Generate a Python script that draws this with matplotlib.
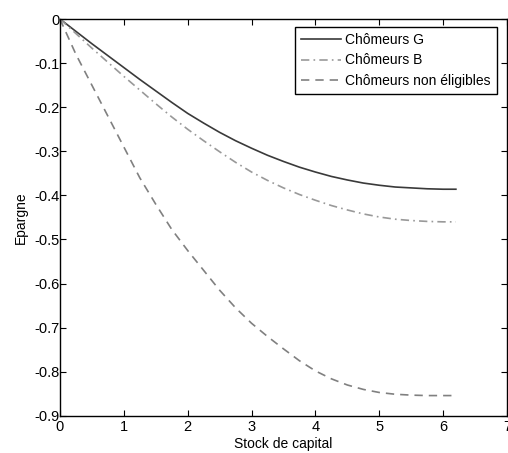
import numpy as np
import matplotlib.pyplot as plt

plt.rcParams['font.family'] = ['Liberation Sans', 'DejaVu Sans']

# stock de capital
capital = [0, 0.25, 0.5, 0.75, 1, 1.25, 1.5, 1.75, 2, 2.25, 2.5, 2.75, 3,
           3.25, 3.5, 3.75, 4, 4.25, 4.5, 4.75, 5, 5.25, 5.5, 5.75, 6, 6.2]
# epargne par groupe
epargne_g = [0, -0.028, -0.056, -0.083, -0.11, -0.137, -0.163, -0.189, -0.214,
             -0.236, -0.257, -0.276, -0.293, -0.309, -0.323, -0.336, -0.347,
             -0.357, -0.365, -0.372, -0.377, -0.381, -0.383, -0.385, -0.386, -0.386]
epargne_b = [0, -0.033, -0.066, -0.098, -0.13, -0.161, -0.192, -0.222, -0.25,
             -0.276, -0.301, -0.325, -0.347, -0.366, -0.383, -0.398, -0.411,
             -0.423, -0.433, -0.442, -0.449, -0.454, -0.457, -0.459, -0.46, -0.46]
epargne_ne = [0, -0.08, -0.15, -0.22, -0.29, -0.36, -0.42, -0.477, -0.525,
              -0.57, -0.615, -0.655, -0.69, -0.72, -0.748, -0.775, -0.798,
              -0.816, -0.83, -0.84, -0.847, -0.851, -0.853, -0.854, -0.854, -0.854]
labels = ['Chômeurs G', 'Chômeurs B', 'Chômeurs non éligibles']
yticks = [-0.9, -0.8, -0.7, -0.6, -0.5, -0.4, -0.3, -0.2, -0.1, 0]

fig = plt.figure(figsize=(5.08, 4.53), dpi=100)
ax = fig.add_axes([0.118, 0.082, 0.880, 0.876])

ax.plot(capital, epargne_g, '-', color='#3a3a3a', lw=1.2, label=labels[0])
ax.plot(capital, epargne_b, color='#999999', lw=1.2,
        linestyle=(0, (5, 2.5, 1, 2.5)), label=labels[1])
ax.plot(capital, epargne_ne, color='#808080', lw=1.2,
        linestyle=(0, (5, 3.6)), label=labels[2])

ax.set_xlim(0, 7)
ax.set_ylim(-0.9, 0)
ax.set_xticks(range(0, 8))
ax.set_yticks(yticks)
ax.set_yticklabels(['-0.9', '-0.8', '-0.7', '-0.6', '-0.5', '-0.4', '-0.3', '-0.2', '-0.1', '0'])
ax.tick_params(direction='in', top=True, right=True, labelsize=10.5, length=4)
ax.tick_params(axis='y', pad=0)
ax.tick_params(axis='x', pad=3)
for s in ax.spines.values():
    s.set_linewidth(1.0)

ax.set_xlabel('Stock de capital', fontsize=10, labelpad=2)
ax.set_ylabel('Epargne', fontsize=10, labelpad=5)

leg = ax.legend(loc='upper right', bbox_to_anchor=(0.978, 0.980), fontsize=10,
                fancybox=False, framealpha=1, edgecolor='black', borderpad=0.45,
                labelspacing=0.45, handlelength=2.9, handletextpad=0.3,
                borderaxespad=0)
leg.get_frame().set_linewidth(1.0)

fig.savefig('out.png', dpi=100)
